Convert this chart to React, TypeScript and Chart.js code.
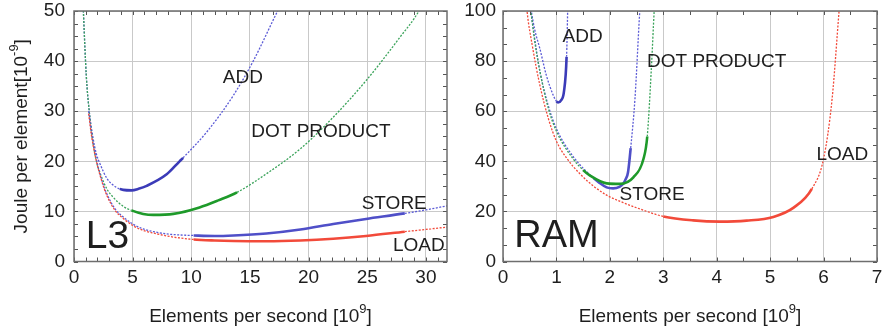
import React, { useEffect, useRef } from "react";
import { Chart, registerables } from "chart.js";

Chart.register(...registerables);

const FONT = "'Liberation Sans', Arial, Helvetica, sans-serif";
const INK = "#1e1e1e";

// ---------- L3 panel (energy per element vs. element rate) ----------
const l3AddX = [0.72, 0.8, 1.05, 1.3, 1.6, 1.9, 2.2, 2.8, 3.6, 3.9, 4.2, 4.9, 5.5, 6.2, 7.9, 9.0, 9.3, 11.3, 13.6, 15.3, 17.4, 17.8];
const l3AddY = [55, 50, 37, 30, 25, 21.5, 19.6, 16.6, 14.8, 14.5, 14.3, 14.2, 14.5, 15.1, 17.4, 20.0, 20.7, 25.8, 33.2, 40.1, 50.2, 52];

const l3DotX = [0.72, 0.8, 1.05, 1.3, 1.6, 1.93, 2.2, 2.8, 3.35, 4.2, 4.9, 5.9, 6.76, 8.47, 10.7, 12.3, 13.9, 16.4, 19.3, 22.1, 24.9, 27.8, 29.4, 29.8];
const l3DotY = [55, 50, 37, 30, 24, 19.8, 17.8, 14.5, 12.8, 11.0, 10.2, 9.5, 9.3, 9.5, 10.8, 12.2, 13.8, 17.5, 22.5, 28.8, 36.1, 44.8, 50, 52];

const l3StoreX = [1.25, 1.5, 1.93, 2.4, 2.78, 3.5, 4.2, 5.0, 5.9, 6.9, 7.9, 9.0, 10.2, 12.0, 13.6, 16.4, 19.3, 22.1, 24.9, 28.2, 30, 32];
const l3StoreY = [30, 25.5, 20.2, 16, 13.6, 10.5, 8.9, 7.5, 6.5, 5.9, 5.5, 5.3, 5.2, 5.1, 5.2, 5.6, 6.4, 7.5, 8.5, 9.6, 10.3, 11.2];

const l3LoadX = [1.25, 1.5, 1.93, 2.4, 2.78, 3.5, 4.2, 5.0, 5.9, 6.9, 7.9, 9.0, 10.2, 12.0, 13.6, 16.4, 19.3, 22.1, 24.9, 28.2, 30, 32];
const l3LoadY = [29.5, 25, 19.8, 15.8, 13.3, 10.2, 8.6, 7.2, 6.2, 5.6, 5.1, 4.7, 4.4, 4.2, 4.1, 4.05, 4.2, 4.55, 5.1, 5.95, 6.4, 6.9];

const l3XTicks = [0, 5, 10, 15, 20, 25, 30];
const l3YTicks = [0, 10, 20, 30, 40, 50];

// ---------- RAM panel ----------
const ramAddX = [0.5, 0.53, 0.6, 0.69, 0.81, 0.94, 1.0, 1.03, 1.09, 1.14, 1.19, 1.21, 1.215];
const ramAddY = [105, 100, 92, 85, 74.4, 66.4, 64, 63.5, 64.4, 67.7, 81.7, 100, 106];

const ramDotX = [0.48, 0.52, 0.6, 0.69, 0.85, 1.0, 1.31, 1.5, 1.63, 1.94, 2.19, 2.44, 2.63, 2.7, 2.78, 2.83, 2.85];
const ramDotY = [106, 100, 87, 76, 61, 52, 41, 36.5, 34.3, 31.2, 31, 33.6, 41, 49.9, 78.4, 100, 106];

const ramStoreX = [0.48, 0.52, 0.6, 0.69, 0.85, 1.0, 1.31, 1.63, 1.7, 1.8, 1.94, 2.06, 2.18, 2.25, 2.3, 2.34, 2.39, 2.47, 2.56, 2.58];
const ramStoreY = [106, 100, 88, 76, 62, 53, 42, 34.5, 33.2, 31.5, 29.6, 29.2, 29.8, 31, 33, 35.6, 45.3, 65, 100, 106];

const ramLoadX = [0.42, 0.45, 0.55, 0.69, 0.85, 1.0, 1.2, 1.44, 1.7, 1.94, 2.25, 2.56, 3.0, 3.56, 4.06, 4.56, 5.06, 5.44, 5.78, 6.0, 6.16, 6.29, 6.32];
const ramLoadY = [108, 100, 86, 70.4, 57, 48, 41, 35, 30, 26.5, 23.5, 21, 18, 16.4, 15.9, 16.3, 17.8, 21.5, 29, 41, 65, 100, 108];

const ramXTicks = [0, 1, 2, 3, 4, 5, 6, 7];
const ramYTicks = [0, 20, 40, 60, 80, 100];

type Curve = {
  xs: number[];
  ys: number[];
  solid: [number, number];
  dotColor: string;
  solidColor: string;
};

type Note = { text: string; x: number; y: number; size: number };

type Panel = {
  curves: Curve[];
  notes: Note[];
  xMax: number;
  yMax: number;
  xTicks: number[];
  yTicks: number[];
  xMinor: number;
  yMinor: number;
  yTitle: boolean;
  axisWidth: number;
  tickPad: number;
  padRight: number;
  width: number;
};

const BLUE_DOT = "#5b5bd6";
const BLUE_SOLID = "#3b3bb8";
const BLUE_STORE = "#4f4fc8";
const GREEN_DOT = "#3aa35a";
const GREEN_SOLID = "#1e9a2a";
const RED = "#f24a3a";

const l3Panel: Panel = {
  curves: [
    { xs: l3LoadX, ys: l3LoadY, solid: [10.2, 28.2], dotColor: RED, solidColor: RED },
    { xs: l3StoreX, ys: l3StoreY, solid: [10.2, 28.2], dotColor: BLUE_DOT, solidColor: BLUE_STORE },
    { xs: l3DotX, ys: l3DotY, solid: [4.9, 13.9], dotColor: GREEN_DOT, solidColor: GREEN_SOLID },
    { xs: l3AddX, ys: l3AddY, solid: [3.9, 9.3], dotColor: BLUE_DOT, solidColor: BLUE_SOLID },
  ],
  notes: [
    { text: "ADD", x: 14.4, y: 36.6, size: 19 },
    { text: "DOT PRODUCT", x: 21.05, y: 25.9, size: 19 },
    { text: "STORE", x: 27.3, y: 11.6, size: 19 },
    { text: "LOAD", x: 29.4, y: 3.2, size: 19 },
    { text: "L3", x: 2.86, y: 4.9, size: 39 },
  ],
  xMax: 31.8,
  yMax: 50,
  xTicks: l3XTicks,
  yTicks: l3YTicks,
  xMinor: 1,
  yMinor: 2.5,
  yTitle: true,
  axisWidth: 74,
  tickPad: 9,
  padRight: 13,
  width: 460,
};

const ramPanel: Panel = {
  curves: [
    { xs: ramLoadX, ys: ramLoadY, solid: [3.0, 5.78], dotColor: RED, solidColor: RED },
    { xs: ramDotX, ys: ramDotY, solid: [1.5, 2.7], dotColor: GREEN_DOT, solidColor: GREEN_SOLID },
    { xs: ramStoreX, ys: ramStoreY, solid: [1.7, 2.39], dotColor: BLUE_DOT, solidColor: BLUE_STORE },
    { xs: ramAddX, ys: ramAddY, solid: [1.0, 1.19], dotColor: BLUE_DOT, solidColor: BLUE_SOLID },
  ],
  notes: [
    { text: "ADD", x: 1.49, y: 89.7, size: 19 },
    { text: "DOT PRODUCT", x: 4.0, y: 79.8, size: 19 },
    { text: "STORE", x: 2.79, y: 26.5, size: 19 },
    { text: "LOAD", x: 6.35, y: 42.5, size: 19 },
    { text: "RAM", x: 1.0, y: 9.9, size: 38 },
  ],
  xMax: 7,
  yMax: 100,
  xTicks: ramXTicks,
  yTicks: ramYTicks,
  xMinor: 0.5,
  yMinor: 20 / 3,
  yTitle: false,
  axisWidth: 43,
  tickPad: 7,
  padRight: 9,
  width: 426,
};

const HEIGHT = 331;

type Part = { t: string; sup?: boolean };

function drawRich(ctx: CanvasRenderingContext2D, parts: Part[], cx: number, cy: number, size: number) {
  const base = `${size}px ${FONT}`;
  const small = `${Math.round(size * 0.68)}px ${FONT}`;
  let total = 0;
  for (const p of parts) {
    ctx.font = p.sup ? small : base;
    total += ctx.measureText(p.t).width;
  }
  let x = cx - total / 2;
  const baseline = cy + size * 0.36;
  ctx.textAlign = "left";
  ctx.textBaseline = "alphabetic";
  for (const p of parts) {
    ctx.font = p.sup ? small : base;
    ctx.fillText(p.t, x, p.sup ? baseline - size * 0.45 : baseline);
    x += ctx.measureText(p.t).width;
  }
}

function buildChart(canvas: HTMLCanvasElement, panel: Panel) {
  const isSolid = (c: Curve, ctx: any) =>
    ctx.p0.parsed.x >= c.solid[0] - 1e-9 && ctx.p1.parsed.x <= c.solid[1] + 1e-9;

  const datasets = panel.curves.map((c) => ({
    data: c.xs.map((x, i) => ({ x, y: c.ys[i] })),
    showLine: true,
    pointRadius: 0,
    pointHoverRadius: 0,
    borderColor: c.dotColor,
    borderWidth: 1.3,
    borderDash: [2, 1.5],
    cubicInterpolationMode: "monotone" as const,
    clip: 0,
    segment: {
      borderColor: (ctx: any) => (isSolid(c, ctx) ? c.solidColor : c.dotColor),
      borderWidth: (ctx: any) => (isSolid(c, ctx) ? 2.6 : 1.3),
      borderDash: (ctx: any) => (isSolid(c, ctx) ? [] : [2, 1.5]),
    },
  }));

  const decorations = {
    id: "panelDecor",
    afterDatasetsDraw(chart: Chart) {
      const ctx = chart.ctx;
      const a = chart.chartArea;
      const xs = chart.scales.x;
      const ys = chart.scales.y;
      ctx.save();

      // small inward tick marks on all four sides
      ctx.strokeStyle = "#555";
      ctx.lineWidth = 1;
      ctx.beginPath();
      for (let v = 0; v <= panel.xMax + 1e-6; v += panel.xMinor) {
        const px = Math.round(xs.getPixelForValue(v)) + 0.5;
        ctx.moveTo(px, a.bottom);
        ctx.lineTo(px, a.bottom - 4);
        ctx.moveTo(px, a.top);
        ctx.lineTo(px, a.top + 4);
      }
      for (let v = 0; v <= panel.yMax + 1e-6; v += panel.yMinor) {
        const py = Math.round(ys.getPixelForValue(v)) + 0.5;
        ctx.moveTo(a.left, py);
        ctx.lineTo(a.left + 4, py);
        ctx.moveTo(a.right, py);
        ctx.lineTo(a.right - 4, py);
      }
      ctx.stroke();

      // plot frame
      ctx.strokeStyle = "#6e6e6e";
      ctx.lineWidth = 1.5;
      ctx.strokeRect(a.left, a.top, a.right - a.left, a.bottom - a.top);

      // curve names and panel name
      ctx.fillStyle = INK;
      ctx.textAlign = "center";
      ctx.textBaseline = "middle";
      for (const n of panel.notes) {
        ctx.font = `${n.size}px ${FONT}`;
        ctx.fillText(n.text, xs.getPixelForValue(n.x), ys.getPixelForValue(n.y));
      }

      // axis titles
      drawRich(
        ctx,
        [{ t: "Elements per second [10" }, { t: "9", sup: true }, { t: "]" }],
        (a.left + a.right) / 2,
        HEIGHT - 16,
        19
      );
      if (panel.yTitle) {
        ctx.translate(20, (a.top + a.bottom) / 2);
        ctx.rotate(-Math.PI / 2);
        drawRich(ctx, [{ t: "Joule per element[10" }, { t: "-9", sup: true }, { t: "]" }], 0, 0, 19);
      }
      ctx.restore();
    },
  };

  const tickFont = { family: FONT, size: 19 };

  return new Chart(canvas, {
    type: "scatter",
    data: { datasets },
    options: {
      animation: false,
      responsive: false,
      events: [],
      layout: { padding: { top: 11, right: panel.padRight, left: 0, bottom: 0 } },
      plugins: { legend: { display: false }, tooltip: { enabled: false } },
      scales: {
        x: {
          type: "linear",
          min: 0,
          max: panel.xMax,
          afterBuildTicks: (s: any) => {
            s.ticks = panel.xTicks.map((value) => ({ value }));
          },
          afterFit: (s: any) => {
            s.height = 69.5;
            s.paddingLeft = 0;
            s.paddingRight = 0;
          },
          ticks: { font: tickFont, color: INK, padding: 5 },
          grid: { color: "#c9c9c9", lineWidth: 1, drawTicks: false },
          border: { display: false },
        },
        y: {
          type: "linear",
          min: 0,
          max: panel.yMax,
          afterBuildTicks: (s: any) => {
            s.ticks = panel.yTicks.map((value) => ({ value }));
          },
          afterFit: (s: any) => {
            s.width = panel.axisWidth;
            s.paddingTop = 0;
            s.paddingBottom = 0;
          },
          ticks: { font: tickFont, color: INK, padding: panel.tickPad },
          grid: { color: "#c9c9c9", lineWidth: 1, drawTicks: false },
          border: { display: false },
        },
      },
    },
    plugins: [decorations],
  } as any);
}

function PanelChart({ panel, left }: { panel: Panel; left: number }) {
  const ref = useRef<HTMLCanvasElement>(null);
  useEffect(() => {
    if (!ref.current) return;
    const chart = buildChart(ref.current, panel);
    return () => chart.destroy();
  }, [panel]);
  return (
    <canvas
      ref={ref}
      width={panel.width}
      height={HEIGHT}
      style={{ position: "absolute", left, top: 0, width: panel.width, height: HEIGHT }}
    />
  );
}

export default function App() {
  return (
    <div style={{ position: "fixed", left: 0, top: 0, width: 886, height: HEIGHT, background: "#ffffff" }}>
      <PanelChart panel={l3Panel} left={0} />
      <PanelChart panel={ramPanel} left={460} />
    </div>
  );
}
